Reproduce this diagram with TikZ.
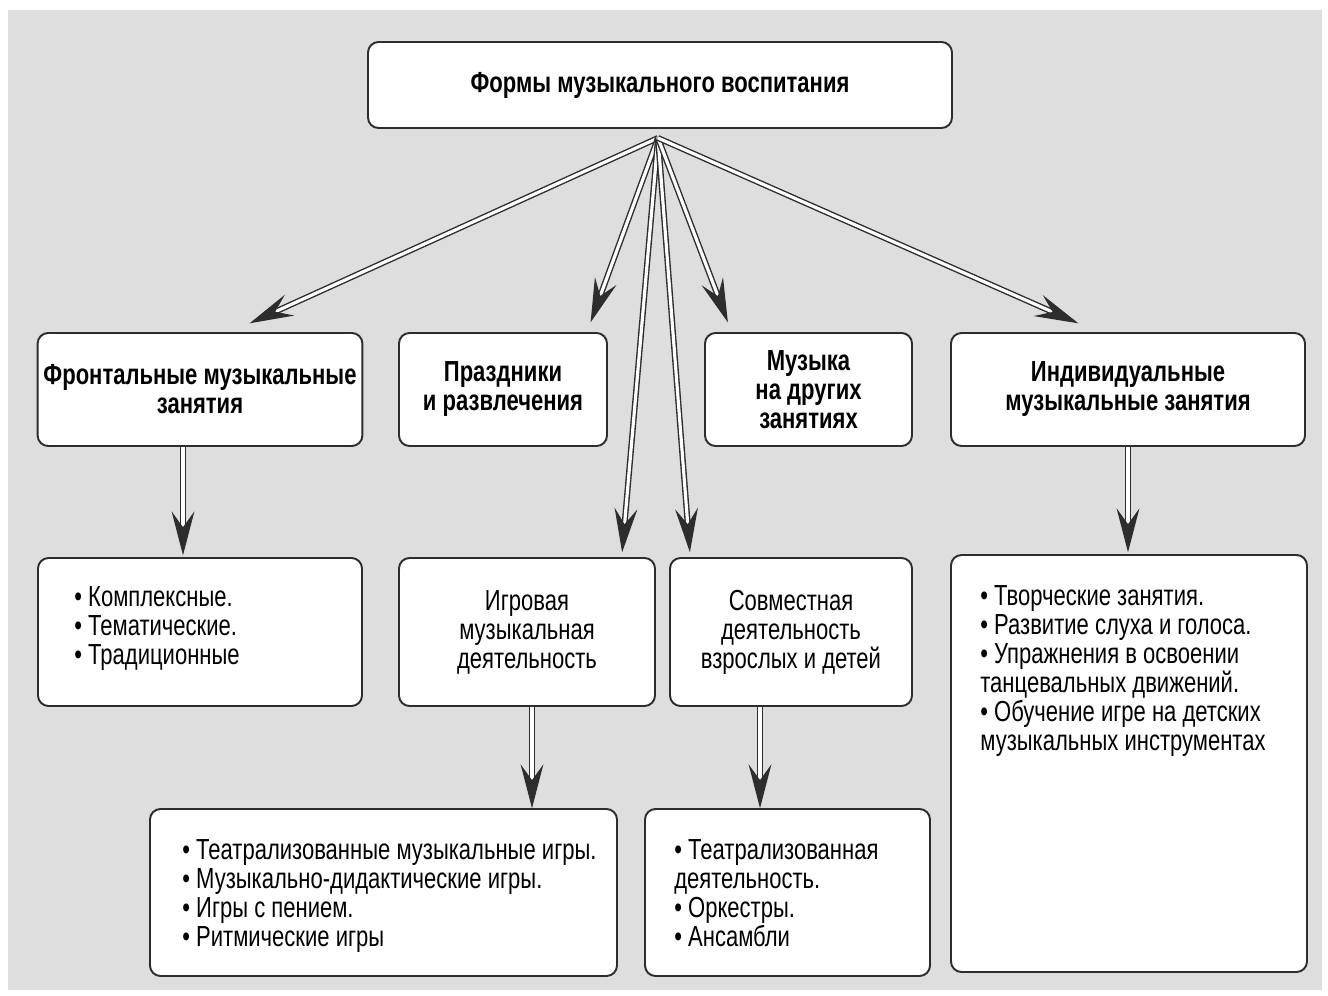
\documentclass[tikz,border=0pt]{standalone}
\usepackage{fontspec}
\setmainfont{Liberation Sans}[FakeStretch=0.76]
\usetikzlibrary{arrows.meta}
\definecolor{pagegray}{RGB}{222,222,222}
\definecolor{inkgray}{RGB}{45,45,45}

\begin{document}
\begin{tikzpicture}
[x=0.02cm,y=-0.02cm,
every node/.style={font=\fontsize{16.5}{16.5}\selectfont,text=black},
blk/.style={draw=inkgray,line width=1.1pt,rounded corners=6pt,fill=white},
hd/.style={blk,align=center,font=\fontsize{16.5}{16.5}\selectfont\bfseries},
txt/.style={anchor=north west,align=left,inner sep=0pt},
dbl/.style={draw=inkgray,line width=0.8pt,double=white,double distance=1.8pt,
  -{Stealth[length=25pt,width=13pt,inset=9pt]},shorten >=1pt}]
\useasboundingbox (0,0) rectangle (1328,996);
\fill[pagegray] (8,10) rectangle (1322,990);
% top
\node[hd,minimum width=584*0.02cm,minimum height=86*0.02cm] (top) at (660,85) {Формы музыкального воспитания};
% second row
\node[hd,minimum width=324*0.02cm,minimum height=113*0.02cm] (front) at (200,389.5) {Фронтальные музыкальные\\занятия};
\node[hd,minimum width=208*0.02cm,minimum height=113*0.02cm] (prazd) at (503,389.5) {Праздники\\и развлечения};
\node[hd,minimum width=207*0.02cm,minimum height=113*0.02cm] (muz) at (808.5,389.5) {Музыка\\на других\\занятиях};
\node[hd,minimum width=354*0.02cm,minimum height=113*0.02cm] (indiv) at (1128,389.5) {Индивидуальные\\музыкальные занятия};
% third row
\node[blk,minimum width=324*0.02cm,minimum height=148*0.02cm] (kompl) at (200,632) {};
\node[txt] (kompltxt) at (74,586) {• Комплексные.\\• Тематические.\\• Традиционные};
\node[blk,align=center,minimum width=256*0.02cm,minimum height=148*0.02cm] (igr) at (527,632) {Игровая\\музыкальная\\деятельность};
\node[blk,align=center,minimum width=242*0.02cm,minimum height=148*0.02cm] (sovm) at (791,632) {Совместная\\деятельность\\взрослых и детей};
\node[blk,minimum width=356*0.02cm,minimum height=417*0.02cm] (tvor) at (1129,763.5) {};
\node[txt] (tvortxt) at (980,585) {• Творческие занятия.\\• Развитие слуха и голоса.\\• Упражнения в освоении\\танцевальных движений.\\• Обучение игре на детских\\музыкальных инструментах};
% bottom row
\node[blk,minimum width=467*0.02cm,minimum height=167*0.02cm] (teatr) at (383.5,892.5) {};
\node[txt] (teatrtxt) at (182,839) {• Театрализованные музыкальные игры.\\• Музыкально-дидактические игры.\\• Игры с пением.\\• Ритмические игры};
\node[blk,minimum width=285*0.02cm,minimum height=167*0.02cm] (orch) at (787.5,892.5) {};
\node[txt] (orchtxt) at (674,839) {• Театрализованная\\деятельность.\\• Оркестры.\\• Ансамбли};
% arrows from the top
\coordinate (src) at (658,138);
\draw[dbl] (src) -- ([xshift=0.96cm,yshift=0.16cm]front.north);
\draw[dbl] (src) -- ([xshift=1.74cm,yshift=0.16cm]prazd.north);
\draw[dbl] (src) -- ([xshift=1.9cm,yshift=0.06cm]igr.north);
\draw[dbl] (src) -- ([xshift=-2.02cm,yshift=0.06cm]sovm.north);
\draw[dbl] (src) -- ([xshift=-1.6cm,yshift=0.16cm]muz.north);
\draw[dbl] (src) -- ([xshift=-0.96cm,yshift=0.16cm]indiv.north);
% arrows down
\draw[dbl] ([xshift=-0.34cm]front.south) -- ([xshift=-0.34cm]kompl.north);
\draw[dbl] (indiv.south) -- (indiv.south |- tvor.north);
\draw[dbl] ([xshift=0.1cm]igr.south) -- ++(0,103);
\draw[dbl] ([xshift=-0.62cm]sovm.south) -- ++(0,103);
\end{tikzpicture}
\end{document}
